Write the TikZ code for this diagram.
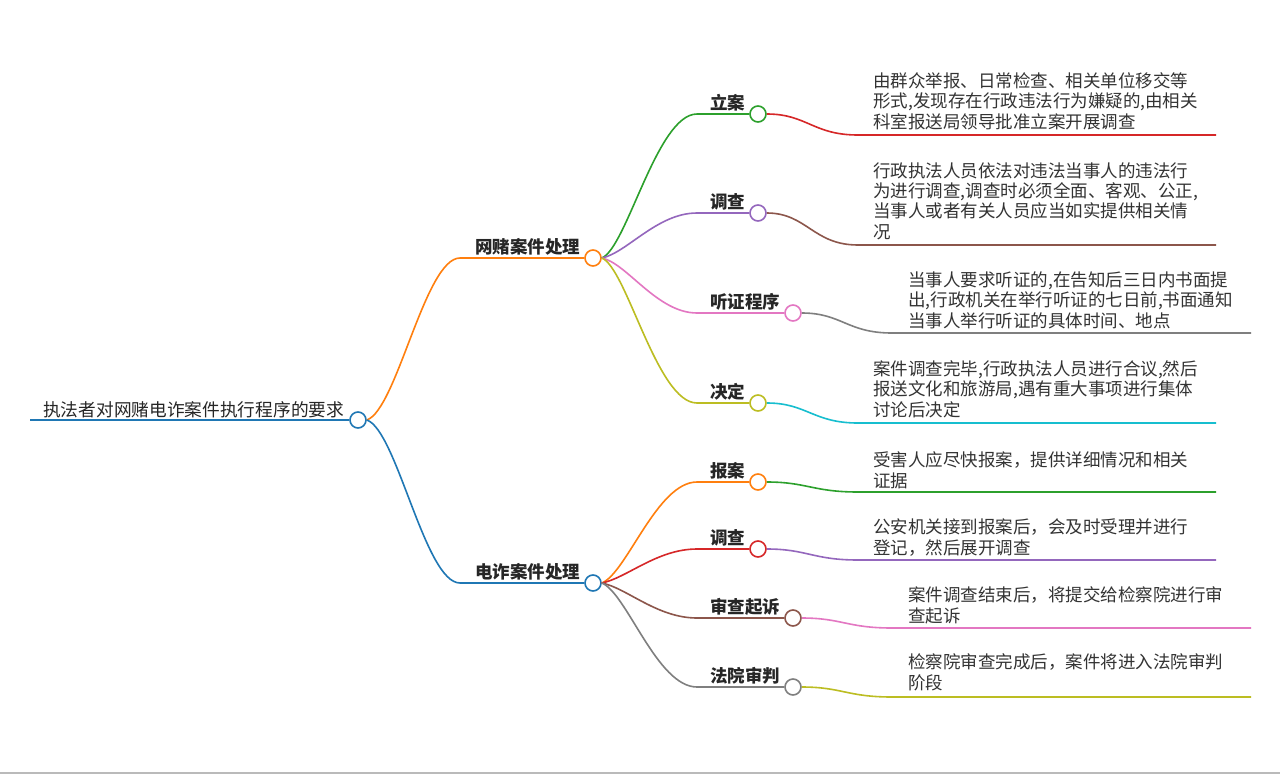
\documentclass[tikz,border=0pt]{standalone}
\usepackage{fontspec}
\newfontfamily\cjk{Noto Sans CJK SC}
\definecolor{tabblue}{HTML}{1F77B4}
\definecolor{taborange}{HTML}{FF7F0E}
\definecolor{tabgreen}{HTML}{2CA02C}
\definecolor{tabred}{HTML}{D62728}
\definecolor{tabpurple}{HTML}{9467BD}
\definecolor{tabbrown}{HTML}{8C564B}
\definecolor{tabpink}{HTML}{E377C2}
\definecolor{tabgray}{HTML}{7F7F7F}
\definecolor{tabolive}{HTML}{BCBD22}
\definecolor{tabcyan}{HTML}{17BECF}
\tikzset{
  knob/.style={circle, draw=#1, fill=white, line width=1.6pt, minimum size=16pt, inner sep=0pt},
  branch/.style={line width=1.6pt},
  rootlbl/.style={font=\cjk\fontsize{17.7}{20}\selectfont, anchor=base west, inner sep=0pt, text=black!85},
  lbl/.style={font=\cjk\bfseries\fontsize{17.5}{20}\selectfont, anchor=base west, inner sep=0pt, text=black!85},
  desc/.style={font=\cjk\fontsize{17.5}{20.3}\selectfont, align=left, anchor=base west, inner sep=0pt, text=black!80},
}

\begin{document}
\begin{tikzpicture}[x=1pt, y=-1pt]
			\useasboundingbox[fill=white] (0,0) rectangle (1280,774);
			
			%%%%% ROOT %%%%%
			\coordinate (r0) at (30,420);
			\node[knob=tabblue] (c0) at (358,420) {};
			\node[rootlbl] (t0) at (43,416) {执法者对网赌电诈案件执行程序的要求};
			\draw[branch, tabblue] (r0) -- (c0.west);
			
			%%%%% LEVEL 2 %%%%%
			\coordinate (j1) at (460,258);
			\coordinate (j2) at (460,583);
			\node[knob=taborange] (c1) at (593,258) {};
			\node[knob=tabblue] (c2) at (593,583) {};
			\node[lbl] (t1) at (475,253) {网赌案件处理};
			\node[lbl] (t2) at (475,578) {电诈案件处理};
			\draw[branch, taborange] (c0.east) .. controls +(30,-10) and +(-35,0) .. (j1) -- (c1.west);
			\draw[branch, tabblue] (c0.east) .. controls +(30,10) and +(-35,0) .. (j2) -- (c2.west);
			
			%%%%% 网赌 %%%%%
			\node[knob=tabgreen] (c11) at (758,114) {};
			\node[knob=tabpurple] (c12) at (758,213) {};
			\node[knob=tabpink] (c13) at (793,313) {};
			\node[knob=tabolive] (c14) at (758,403) {};
			\node[lbl] (t11) at (710,109) {立案};
			\node[lbl] (t12) at (710,208) {调查};
			\node[lbl] (t13) at (710,308) {听证程序};
			\node[lbl] (t14) at (710,398) {决定};
			\coordinate (j11) at (697,114);
			\coordinate (j12) at (697,213);
			\coordinate (j13) at (697,313);
			\coordinate (j14) at (697,403);
			\draw[branch, tabgreen] (c1.east) .. controls +(25,-10) and +(-40,0) .. (j11) -- (c11.west);
			\draw[branch, tabpurple] (c1.east) .. controls +(25,-5) and +(-40,0) .. (j12) -- (c12.west);
			\draw[branch, tabpink] (c1.east) .. controls +(25,5) and +(-40,0) .. (j13) -- (c13.west);
			\draw[branch, tabolive] (c1.east) .. controls +(25,10) and +(-40,0) .. (j14) -- (c14.west);
			
			%%%%% 电诈 %%%%%
			\node[knob=taborange] (c21) at (758,482) {};
			\node[knob=tabred] (c22) at (758,549) {};
			\node[knob=tabbrown] (c23) at (793,618) {};
			\node[knob=tabgray] (c24) at (793,687) {};
			\node[lbl] (t21) at (710,477) {报案};
			\node[lbl] (t22) at (710,544) {调查};
			\node[lbl] (t23) at (710,613) {审查起诉};
			\node[lbl] (t24) at (710,682) {法院审判};
			\coordinate (j21) at (697,482);
			\coordinate (j22) at (697,549);
			\coordinate (j23) at (697,618);
			\coordinate (j24) at (697,687);
			\draw[branch, taborange] (c2.east) .. controls +(25,-10) and +(-40,0) .. (j21) -- (c21.west);
			\draw[branch, tabred] (c2.east) .. controls +(25,-5) and +(-40,0) .. (j22) -- (c22.west);
			\draw[branch, tabbrown] (c2.east) .. controls +(25,5) and +(-40,0) .. (j23) -- (c23.west);
			\draw[branch, tabgray] (c2.east) .. controls +(25,10) and +(-40,0) .. (j24) -- (c24.west);
			
			%%%%% DESCRIPTIONS (anchored at last line) %%%%%
			\node[desc] (d11) at (873,128) {由群众举报、日常检查、相关单位移交等\\形式,发现存在行政违法行为嫌疑的,由相关\\科室报送局领导批准立案开展调查};
			\node[desc] (d12) at (873,238) {行政执法人员依法对违法当事人的违法行\\为进行调查,调查时必须全面、客观、公正,\\当事人或者有关人员应当如实提供相关情\\况};
			\node[desc] (d13) at (908,327) {当事人要求听证的,在告知后三日内书面提\\出,行政机关在举行听证的七日前,书面通知\\当事人举行听证的具体时间、地点};
			\node[desc] (d14) at (873,416) {案件调查完毕,行政执法人员进行合议,然后\\报送文化和旅游局,遇有重大事项进行集体\\讨论后决定};
			\node[desc] (d21) at (873,487) {受害人应尽快报案，提供详细情况和相关\\证据};
			\node[desc] (d22) at (873,554) {公安机关接到报案后，会及时受理并进行\\登记，然后展开调查};
			\node[desc] (d23) at (908,622) {案件调查结束后，将提交给检察院进行审\\查起诉};
			\node[desc] (d24) at (908,689) {检察院审查完成后，案件将进入法院审判\\阶段};
			
			\coordinate (u11) at (858,135);  \coordinate (e11) at (1216,135);
			\coordinate (u12) at (858,245);  \coordinate (e12) at (1216,245);
			\coordinate (u13) at (892,333);  \coordinate (e13) at (1251,333);
			\coordinate (u14) at (858,423);  \coordinate (e14) at (1216,423);
			\coordinate (u21) at (858,492);  \coordinate (e21) at (1216,492);
			\coordinate (u22) at (858,560);  \coordinate (e22) at (1216,560);
			\coordinate (u23) at (892,628);  \coordinate (e23) at (1251,628);
			\coordinate (u24) at (892,697);  \coordinate (e24) at (1251,697);
			\draw[branch, tabred] (c11.east) .. controls +(40,0) and +(-45,0) .. (u11) -- (e11);
			\draw[branch, tabbrown] (c12.east) .. controls +(40,0) and +(-45,0) .. (u12) -- (e12);
			\draw[branch, tabgray] (c13.east) .. controls +(40,0) and +(-45,0) .. (u13) -- (e13);
			\draw[branch, tabcyan] (c14.east) .. controls +(40,0) and +(-45,0) .. (u14) -- (e14);
			\draw[branch, tabgreen] (c21.east) .. controls +(40,0) and +(-45,0) .. (u21) -- (e21);
			\draw[branch, tabpurple] (c22.east) .. controls +(40,0) and +(-45,0) .. (u22) -- (e22);
			\draw[branch, tabpink] (c23.east) .. controls +(40,0) and +(-45,0) .. (u23) -- (e23);
			\draw[branch, tabolive] (c24.east) .. controls +(40,0) and +(-45,0) .. (u24) -- (e24);
			
			\draw[line width=1.5pt, black!27] (0,773) -- (1280,773);
		\end{tikzpicture}
\end{document}
